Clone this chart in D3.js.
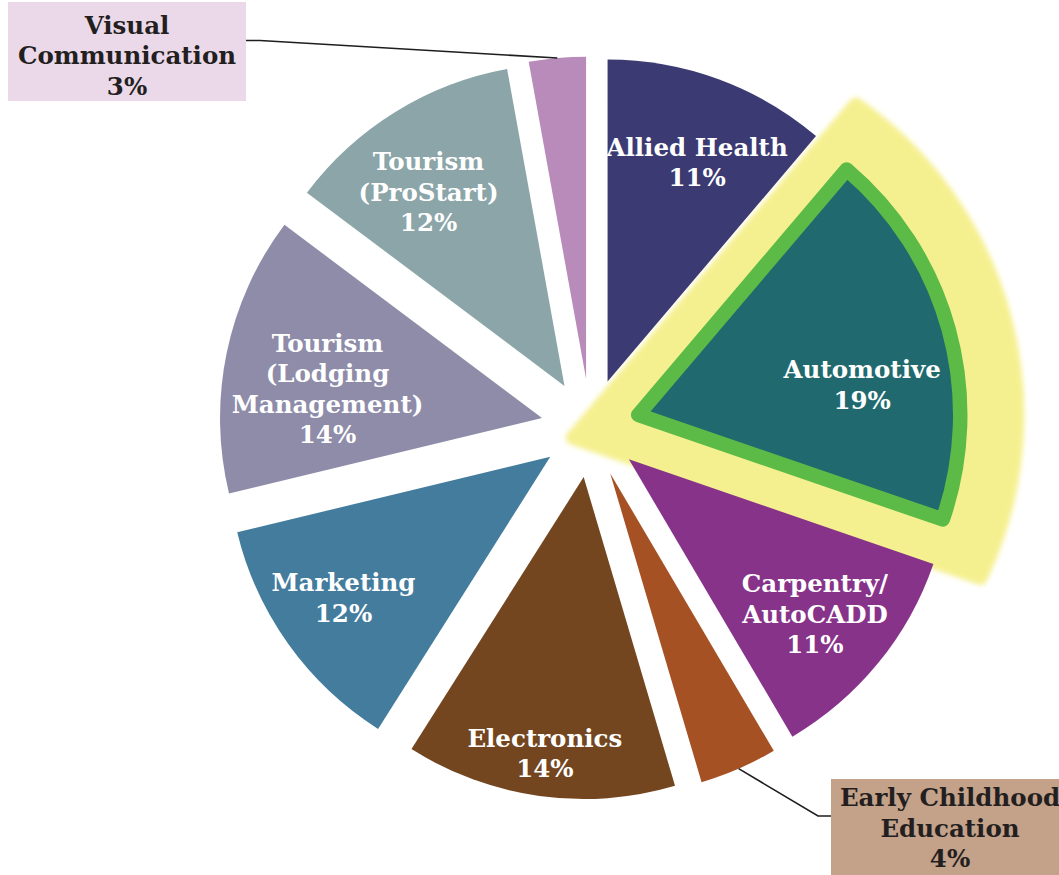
<!DOCTYPE html>
<html><head><meta charset="utf-8">
<script src="https://cdn.jsdelivr.net/npm/d3@7"></script>
<style>html,body{margin:0;padding:0;background:#fff;} svg{display:block;}</style>
</head><body>
<svg id="chart" width="1059" height="875"></svg>
<script>
// ---- data ----
const categories = ["Allied Health","Automotive","Carpentry/AutoCADD","Early Childhood Education","Electronics","Marketing","Tourism (Lodging Management)","Tourism (ProStart)","Visual Communication"];
const labelLines = [["Allied Health"],["Automotive"],["Carpentry/","AutoCADD"],["Early Childhood","Education"],["Electronics"],["Marketing"],["Tourism","(Lodging","Management)"],["Tourism","(ProStart)"],["Visual","Communication"]];
const values = [11.2, 19.05, 11.25, 3.9, 13.55, 12.25, 14.0, 11.9, 2.85];
const highlighted = "Automotive";

// ---- styles / layout ----
const colors = ["#3B3A73","#20696E","#87338A","#A65123","#73461F","#437C9D","#8E8CA9","#8BA5A8","#B98BBA"];
const W = 1059, H = 875;
const cx = 590.5, cy = 428, R = 322, explode = 49.5;
const fontSize = 24.5, lineH = 30.5;
const fontFamily = "'DejaVu Serif', Georgia, serif";
// glow around highlighted slice: edge offsets and arc growth (px)
const glowEdge1 = 42, glowEdge2 = 50, glowGrow = 64, glowRound = 14;
// inside label placement: [distance from slice tip, angle in degrees]
const insideLabelPolar = {0:[237,22.2],1:[226,82.3],2:[242,129.75],4:[279,188],5:[250,235.8],6:[216.5,277.75],7:[237,325]};
// outside callouts
const callouts = {
  8: {box:[8,2,238,99], fill:"#EBD9EA", textX:127, blockY:55.5, elbow:[[260,40.5],[246,40.5]]},
  3: {box:[831,779,238,99], fill:"#C4A189", textX:950, blockY:828, elbow:[[818,816],[831,816]]}
};

const svg = d3.select("#chart");
svg.append("rect").attr("width",W).attr("height",H).attr("fill","#fff");
const defs = svg.append("defs");
defs.append("filter").attr("id","glowBlur").attr("x","-30%").attr("y","-30%").attr("width","160%").attr("height","160%")
  .append("feGaussianBlur").attr("stdDeviation",2.6);

const pie = d3.pie().sort(null).value(d => d);
const arcs = pie(values);
const arc = d3.arc().innerRadius(0).outerRadius(R);

function dir(t){ return [Math.sin(t), -Math.cos(t)]; }
function tip(a){
  const m = (a.startAngle + a.endAngle)/2, d = dir(m);
  return [cx + explode*d[0], cy + explode*d[1]];
}
function polar(p, dist, angRad){ const d = dir(angRad); return [p[0] + dist*d[0], p[1] + dist*d[1]]; }

const hiIdx = categories.indexOf(highlighted);
// glow under everything: wedge with offset edges, arc concentric with slice
{
  const a = arcs[hiIdx], P = tip(a);
  const a0 = a.startAngle, a1 = a.endAngle;
  const e1 = glowEdge1 - glowRound/2, e2 = glowEdge2 - glowRound/2, Rg = R + glowGrow - glowRound/2;
  const u1 = dir(a0), n1 = dir(a0 - Math.PI/2), u2 = dir(a1), n2 = dir(a1 + Math.PI/2);
  const o1 = [P[0]+e1*n1[0], P[1]+e1*n1[1]], o2 = [P[0]+e2*n2[0], P[1]+e2*n2[1]];
  // intersection of o1 + s*u1 and o2 + t*u2
  const det = u1[0]*(-u2[1]) - u1[1]*(-u2[0]);
  const dx = o2[0]-o1[0], dy = o2[1]-o1[1];
  const s = (dx*(-u2[1]) - dy*(-u2[0]))/det;
  const G = [o1[0]+s*u1[0], o1[1]+s*u1[1]];
  const t1 = Math.sqrt(Rg*Rg - e1*e1), t2 = Math.sqrt(Rg*Rg - e2*e2);
  const C1 = [o1[0]+t1*u1[0], o1[1]+t1*u1[1]], C2 = [o2[0]+t2*u2[0], o2[1]+t2*u2[1]];
  const pth = d3.path();
  pth.moveTo(G[0],G[1]); pth.lineTo(C1[0],C1[1]);
  pth.arc(P[0],P[1],Rg, Math.atan2(C1[1]-P[1],C1[0]-P[0]), Math.atan2(C2[1]-P[1],C2[0]-P[0]), false);
  pth.closePath();
  svg.append("path").attr("d", pth.toString())
    .attr("fill","#F5F08F").attr("stroke","#F5F08F").attr("stroke-width",glowRound)
    .attr("stroke-linejoin","round").attr("filter","url(#glowBlur)");
}

const gSlices = svg.append("g");
arcs.forEach((a,i) => {
  const t = tip(a);
  const p = gSlices.append("path").attr("d", arc(a)).attr("transform",`translate(${t})`).attr("fill", colors[i]);
  if (i === hiIdx) p.attr("stroke","#5BBB46").attr("stroke-width",14.5).attr("stroke-linejoin","round");
});

function writeBlock(g, lines, x, yc, color){
  const n = lines.length;
  const capHalf = fontSize*0.729/2;
  lines.forEach((ln,k) => {
    g.append("text").attr("x",x).attr("y", yc - (n-1)*lineH/2 + k*lineH + capHalf)
      .attr("text-anchor","middle").attr("fill",color)
      .style("font-family",fontFamily).style("font-weight","bold").style("font-size",fontSize+"px")
      .text(ln);
  });
}

const gLabels = svg.append("g");
arcs.forEach((a,i) => {
  const lines = labelLines[i].concat([Math.round(values[i]) + "%"]);
  if (insideLabelPolar[i]){
    const [dist, deg] = insideLabelPolar[i];
    const p = polar(tip(a), dist, deg*Math.PI/180);
    writeBlock(gLabels, lines, p[0], p[1], "#FFFFFF");
  } else if (callouts[i]){
    const c = callouts[i];
    const m = (a.startAngle + a.endAngle)/2;
    const edge = polar(tip(a), R, m);
    const pts = [edge].concat(c.elbow);
    svg.append("path").attr("d", d3.line()(pts)).attr("fill","none").attr("stroke","#1E1E1E").attr("stroke-width",1.6);
    gLabels.append("rect").attr("x",c.box[0]).attr("y",c.box[1]).attr("width",c.box[2]).attr("height",c.box[3]).attr("fill",c.fill);
    writeBlock(gLabels, lines, c.textX, c.blockY, "#231F20");
  }
});
</script>
</body></html>
